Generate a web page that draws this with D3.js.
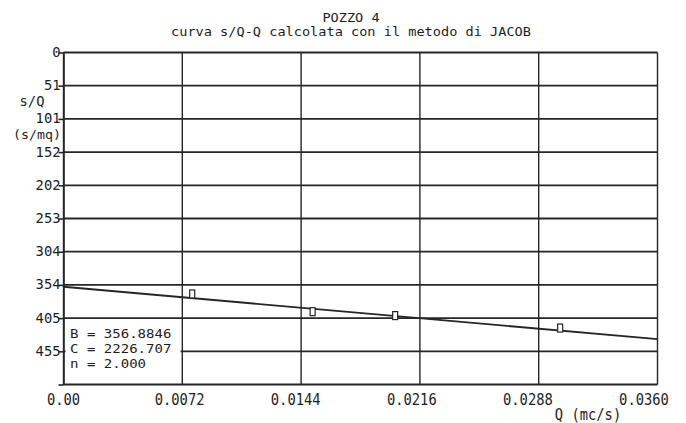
<!DOCTYPE html>
<html>
<head>
<meta charset="utf-8">
<script src="https://cdn.jsdelivr.net/npm/d3@7"></script>
<style>
  html, body { margin: 0; padding: 0; background: #fff; }
  svg text { font-family: "DejaVu Sans Mono", "Liberation Mono", monospace; fill: #1e1e1e; }
</style>
</head>
<body>
<div id="chart"></div>
<script>
// Dati (pozzo 4, metodo di Jacob)
const titleLines = ["POZZO 4", "curva s/Q-Q calcolata con il metodo di JACOB"];
const xTicks = [0, 0.0072, 0.0144, 0.0216, 0.0288, 0.036];
const xTickLabels = ["0.00", "0.0072", "0.0144", "0.0216", "0.0288", "0.0360"];
const yTicks = [0, 50.6, 101.2, 151.8, 202.4, 253, 303.6, 354.2, 404.8, 455.4, 506];
const yTickLabels = ["0", "51", "101", "152", "202", "253", "304", "354", "405", "455", ""];
// punti misurati: portata Q (mc/s) e abbassamento specifico s/Q (s/mq)
const pointsQ = [0.0078, 0.0151, 0.0201, 0.0301];
const pointsSQ = [368, 395, 401, 420];
// retta interpolata s/Q = B + C*Q (estremi)
const fitQ = [0, 0.036];
const fitSQ = [357, 437];
const legendLines = ["B = 356.8846", "C = 2226.707", "n = 2.000"];

const width = 686, height = 423;
const svg = d3.select("#chart").append("svg")
    .attr("width", width)
    .attr("height", height);

const x = d3.scaleLinear().domain([0, 0.036]).range([63.5, 657.5]);
const y = d3.scaleLinear().domain([0, 506]).range([52.5, 384.5]);
const ink = "#262626";

// Titolo
svg.selectAll(".title")
    .data(titleLines)
    .enter()
    .append("text")
    .attr("class", "title")
    .attr("transform", (d, i) => `translate(351,${22 + i * 13.5}) scale(1,0.85)`)
    .attr("text-anchor", "middle")
    .style("font-size", "13.6px")
    .text(d => d);

// Griglia orizzontale
svg.selectAll(".hgrid")
    .data(yTicks)
    .enter()
    .append("line")
    .attr("class", "hgrid")
    .attr("x1", x(0))
    .attr("x2", x(0.036))
    .attr("y1", d => y(d))
    .attr("y2", d => y(d))
    .attr("stroke", ink)
    .attr("stroke-width", 1.8);

// Griglia verticale
svg.selectAll(".vgrid")
    .data(xTicks)
    .enter()
    .append("line")
    .attr("class", "vgrid")
    .attr("x1", d => x(d))
    .attr("x2", d => x(d))
    .attr("y1", y(0))
    .attr("y2", y(506))
    .attr("stroke", ink)
    .attr("stroke-width", 1.4);

// Asse y con tacche
const yAxis = d3.axisLeft(y)
    .tickValues(yTicks)
    .tickSize(5)
    .tickSizeOuter(0)
    .tickFormat((d, i) => yTickLabels[i]);
const gy = svg.append("g")
    .attr("transform", `translate(${x(0)},0)`)
    .call(yAxis);
gy.select(".domain").attr("stroke", ink).attr("stroke-width", 1.6);
gy.selectAll(".tick line").attr("stroke", ink).attr("stroke-width", 1.6);
gy.selectAll(".tick text")
    .attr("x", -3).attr("dy", null).attr("y", 4)
    .style("font-size", "13.8px")
    .style("font-family", "DejaVu Sans Mono")
    .attr("fill", "#1e1e1e");

// Etichette asse x
const gx = svg.append("g");
gx.selectAll("text")
    .data(xTicks)
    .enter()
    .append("text")
    .attr("transform", (d, i) => `translate(${x(d) - 2.7 * i},405) scale(1,1.2)`)
    .attr("text-anchor", "middle")
    .style("font-size", "13.8px")
    .text((d, i) => xTickLabels[i]);

// Titoli degli assi
svg.append("text")
    .attr("transform", "translate(588,420) scale(1,1.1)")
    .attr("text-anchor", "middle")
    .style("font-size", "13.8px")
    .text("Q (mc/s)");
svg.append("text")
    .attr("x", 32)
    .attr("y", 106)
    .attr("text-anchor", "middle")
    .style("font-size", "13.8px")
    .text("s/Q");
svg.append("text")
    .attr("x", 37)
    .attr("y", 139)
    .attr("text-anchor", "middle")
    .attr("textLength", 48)
    .attr("lengthAdjust", "spacingAndGlyphs")
    .style("font-size", "13px")
    .text("(s/mq)");

// Retta di Jacob
const line = d3.line()
    .x((d, i) => x(fitQ[i]))
    .y(d => y(d));
svg.append("path")
    .datum(fitSQ)
    .attr("d", line)
    .attr("fill", "none")
    .attr("stroke", ink)
    .attr("stroke-width", 1.8);

// Punti misurati
svg.selectAll(".pt")
    .data(pointsQ)
    .enter()
    .append("rect")
    .attr("class", "pt")
    .attr("x", d => x(d) - 2.5)
    .attr("y", (d, i) => y(pointsSQ[i]) - 4)
    .attr("width", 5)
    .attr("height", 8)
    .attr("fill", "#fff")
    .attr("stroke", ink)
    .attr("stroke-width", 1.2);

// Riquadro dei parametri
svg.append("rect")
    .attr("x", x(0) + 2)
    .attr("y", 323)
    .attr("width", 115)
    .attr("height", 50)
    .attr("fill", "#fff");
svg.selectAll(".legend")
    .data(legendLines)
    .enter()
    .append("text")
    .attr("class", "legend")
    .attr("x", 70)
    .attr("y", (d, i) => 338 + i * 15)
    .attr("textLength", d => d.length * 8.45)
    .attr("lengthAdjust", "spacingAndGlyphs")
    .style("font-size", "12.8px")
    .text(d => d);
</script>
</body>
</html>
